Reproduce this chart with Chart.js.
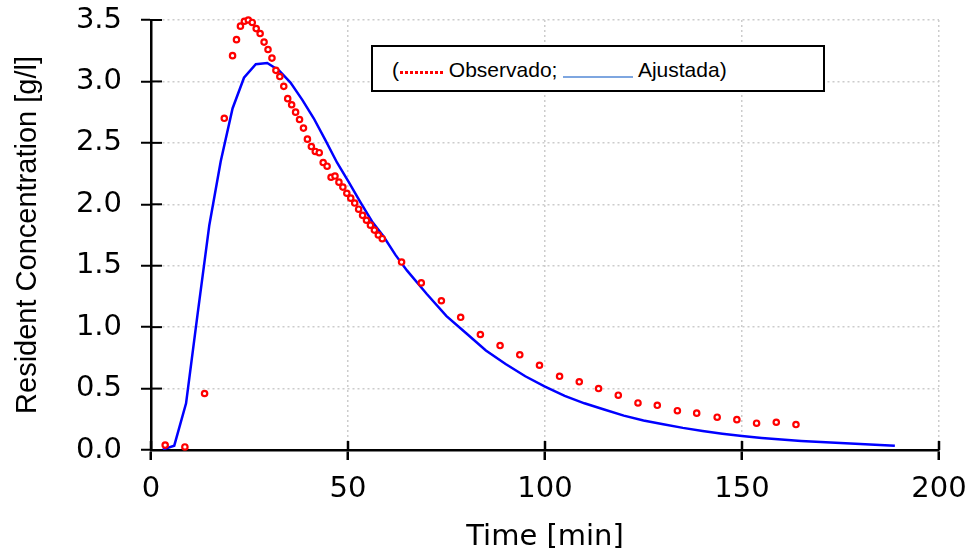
<!DOCTYPE html>
<html>
<head>
<meta charset="utf-8">
<script src="https://cdn.jsdelivr.net/npm/chart.js@4.4.0/dist/chart.umd.min.js"></script>
<style>
    html, body { margin: 0; padding: 0; background: #fff; }
    #wrap { position: relative; width: 975px; height: 555px; }
    #legend {
        position: absolute; left: 371px; top: 45px; width: 454px; height: 47px;
        box-sizing: border-box; border: 2px solid #000; background: #fff;
        font: 21px "Liberation Sans", Arial, sans-serif; line-height: 24px;
        padding: 11px 0 0 19px; white-space: nowrap; color: #000;
    }
    .dots {
        display: inline-block; width: 43px; height: 3px; margin-left: 1px;
        background: repeating-linear-gradient(to right, #f00 0 3px, transparent 3px 5px);
        vertical-align: 3px;
    }
    .solid { display: inline-block; width: 70px; height: 2px; background: #7ea6e0; vertical-align: -1px; }
</style>
</head>
<body>
<div id="wrap">
    <canvas id="chart" width="975" height="555"></canvas>
    <div id="legend">(<span class="dots"></span> Observado; <span class="solid"></span> Ajustada)</div>
</div>
<script>
// observed points
const obsTime = [3.6, 8.6, 13.6, 18.6,
    20.7, 21.7, 22.7, 23.7, 24.7, 25.7, 26.7, 27.7, 28.7, 29.7,
    30.7, 31.7, 32.7, 33.7, 34.7, 35.7, 36.7, 37.7, 38.7, 39.7,
    40.7, 41.7, 42.7, 43.7, 44.7, 45.7, 46.7, 47.7, 48.7, 49.7,
    50.7, 51.7, 52.7, 53.7, 54.7, 55.7, 56.7, 57.7, 58.7,
    63.6, 68.6, 73.7, 78.6, 83.6, 88.6, 93.6, 98.6, 103.7, 108.7,
    113.6, 118.6, 123.6, 128.5, 133.6, 138.5, 143.7, 148.7, 153.7, 158.7, 163.7];
const obsConc = [0.04, 0.025, 0.46, 2.70,
    3.21, 3.34, 3.45, 3.49, 3.50, 3.48, 3.43, 3.39, 3.32, 3.26,
    3.19, 3.09, 3.04, 2.96, 2.86, 2.81, 2.75, 2.69, 2.62, 2.53,
    2.47, 2.43, 2.42, 2.34, 2.31, 2.22, 2.23, 2.18, 2.14, 2.09,
    2.05, 2.01, 1.96, 1.91, 1.87, 1.83, 1.79, 1.75, 1.72,
    1.53, 1.36, 1.215, 1.08, 0.94, 0.85, 0.775, 0.69, 0.60, 0.555,
    0.50, 0.446, 0.383, 0.364, 0.32, 0.30, 0.267, 0.247, 0.218, 0.226, 0.207];

// fitted curve
const fitTime = [3.0, 5.9, 8.9, 11.8, 14.8, 17.7, 20.7, 23.6, 26.6, 29.5, 32.5, 35.4, 38.4,
    41.3, 44.3, 47.2, 50.2, 53.1, 56.1, 59.0, 62.0,
    65, 70, 75, 80, 85, 90, 95, 100, 105, 110, 115, 120, 125, 130, 135,
    140, 145, 150, 155, 160, 165, 170, 175, 180, 185, 188.8];
const fitConc = [0.005, 0.035, 0.38, 1.10, 1.83, 2.35, 2.78, 3.03, 3.14, 3.15, 3.09, 2.99, 2.85,
    2.70, 2.52, 2.34, 2.18, 2.02, 1.86, 1.74, 1.59,
    1.46, 1.27, 1.09, 0.95, 0.81, 0.70, 0.60, 0.516, 0.44, 0.38, 0.33, 0.28, 0.24, 0.21, 0.18,
    0.155, 0.133, 0.114, 0.098, 0.085, 0.074, 0.065, 0.056, 0.048, 0.041, 0.034];

const xTicks = [0, 50, 100, 150, 200];
const yTicks = [0, 0.5, 1.0, 1.5, 2.0, 2.5, 3.0, 3.5];

const tickFont = { family: "'DejaVu Sans', sans-serif", size: 29 };

// short tick marks on the inner side of both axes
const innerTicks = {
    id: 'innerTicks',
    afterDraw(chart) {
        const { ctx, chartArea, scales } = chart;
        ctx.save();
        ctx.strokeStyle = '#000';
        ctx.lineWidth = 2.5;
        xTicks.forEach(v => {
            const px = scales.x.getPixelForValue(v);
            ctx.beginPath();
            ctx.moveTo(px, chartArea.bottom);
            ctx.lineTo(px, chartArea.bottom - 9);
            ctx.stroke();
        });
        ctx.lineWidth = 2;
        yTicks.forEach(v => {
            const py = scales.y.getPixelForValue(v);
            ctx.beginPath();
            ctx.moveTo(chartArea.left, py);
            ctx.lineTo(chartArea.left + 11, py);
            ctx.stroke();
        });
        ctx.restore();
    }
};

new Chart(document.getElementById('chart'), {
    type: 'scatter',
    data: {
        datasets: [{
            label: 'Observado',
            data: obsTime.map((t, i) => ({ x: t, y: obsConc[i] })),
            showLine: false,
            pointStyle: 'circle',
            pointRadius: 2.7,
            pointBorderWidth: 2.2,
            pointBorderColor: '#ff0000',
            pointBackgroundColor: '#ffffff',
            clip: false
        }, {
            label: 'Ajustada',
            data: fitTime.map((t, i) => ({ x: t, y: fitConc[i] })),
            showLine: true,
            borderColor: '#0000ff',
            borderWidth: 2.5,
            pointRadius: 0,
            tension: 0,
            fill: false
        }]
    },
    options: {
        responsive: false,
        animation: false,
        devicePixelRatio: 1,
        layout: { padding: { top: 20, right: 36, bottom: 0, left: 0 } },
        plugins: {
            legend: { display: false },
            tooltip: { enabled: false }
        },
        scales: {
            x: {
                type: 'linear',
                min: xTicks[0],
                max: xTicks[xTicks.length - 1],
                afterFit: s => { s.height = 105; s.paddingLeft = 0; s.paddingRight = 0; },
                ticks: { stepSize: 50, color: '#000', font: tickFont, padding: 12 },
                grid: { color: '#cccccc', lineWidth: 1.5, tickColor: '#000', tickWidth: 2.5, tickLength: 10 },
                border: { color: '#000', width: 2.5, dash: [2, 3] },
                title: {
                    display: true, text: 'Time [min]', color: '#000',
                    font: { family: "'DejaVu Sans', sans-serif", size: 29 },
                    padding: { top: 0, bottom: 0 }
                }
            },
            y: {
                min: yTicks[0],
                max: yTicks[yTicks.length - 1],
                afterFit: s => { s.width = 151; s.paddingTop = 0; s.paddingBottom = 0; },
                ticks: {
                    stepSize: 0.5, color: '#000', font: tickFont, padding: 19,
                    callback: v => v.toFixed(1)
                },
                grid: { color: '#cccccc', lineWidth: 1.5, tickColor: '#000', tickWidth: 2, tickLength: 10 },
                border: { color: '#000', width: 2.5, dash: [2, 3] },
                title: {
                    display: true, text: 'Resident Concentration [g/l]', color: '#000',
                    font: { family: "'Liberation Sans', Arial, sans-serif", size: 29 },
                    padding: { top: 11, bottom: 0 }
                }
            }
        }
    },
    plugins: [innerTicks]
});
</script>
</body>
</html>
